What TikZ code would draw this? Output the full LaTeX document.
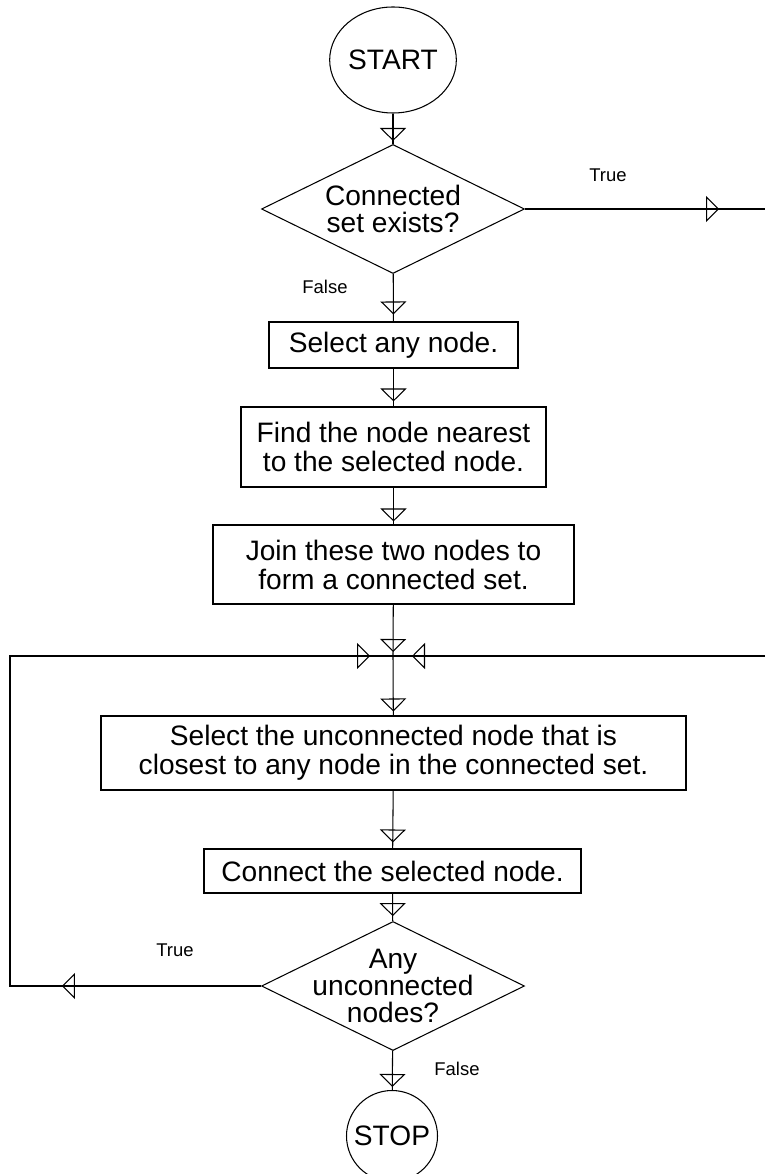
\documentclass[tikz,border=0pt]{standalone}
\usepackage{fontspec}
\setmainfont{Liberation Sans}
\usetikzlibrary{shapes.geometric}
\usetikzlibrary{decorations.markings}
\usetikzlibrary{arrows.meta}

\begin{document}
\begin{tikzpicture}[line width=0.6pt,
  flowbox/.style={draw, rectangle, inner sep=0pt, align=center, font=\fontsize{16}{16.5}\selectfont},
  askbox/.style={draw, diamond, inner sep=0pt, minimum width=5.26cm, minimum height=2.58cm,
    label={[align=center, font=\fontsize{16}{15.6}\selectfont]center:#1}},
  endbox/.style={draw, inner sep=0pt, font=\fontsize{16}{16.5}\selectfont},
  branch/.style={font=\fontsize{10.5}{12}\selectfont},
  tri/.style={postaction={decorate, decoration={markings, mark=at position #1 with {\arrow{Triangle[open, width=0.52cm, length=0.26cm]}}}}}]

\useasboundingbox (0,0) rectangle (15.3,-23.48);

% start and first test
\node[endbox, ellipse, minimum width=2.28cm, minimum height=2.12cm] (start) at (7.86,-1.2) {START};
\node[askbox={Connected\\set exists?}] (d1) at (7.86,-4.18) {};
\node[branch] (t1) at (12.16,-3.5) {True};
\node[branch] (f1) at (6.5,-5.74) {False};
\coordinate (outT) at (15.3,-4.18);

% first pair
\node[flowbox, minimum width=4.98cm, minimum height=0.92cm] (sel) at (7.87,-6.9) {Select any node.};
\node[flowbox, minimum width=6.1cm, minimum height=1.6cm] (near) at (7.87,-8.94) {Find the node nearest\\to the selected node.};
\node[flowbox, minimum width=7.22cm, minimum height=1.58cm] (join) at (7.87,-11.29) {Join these two nodes to\\form a connected set.};

% loop
\coordinate (jn) at (7.86,-13.12);
\coordinate (inR) at (15.3,-13.12);
\node[flowbox, minimum width=11.7cm, minimum height=1.48cm] (close) at (7.87,-15.06) {Select the unconnected node that is\\closest to any node in the connected set.};
\node[flowbox, minimum width=7.54cm, minimum height=0.88cm] (conn) at (7.85,-17.42) {Connect the selected node.};
\node[askbox={Any\\unconnected\\nodes?}] (d2) at (7.86,-19.72) {};
\node[branch] (t2) at (3.5,-19.0) {True};
\node[branch] (f2) at (9.14,-21.38) {False};
\coordinate (loopB) at (0.2,-19.72);

% stop
\node[endbox, circle, minimum size=1.82cm] (stop) at (7.84,-22.72) {STOP};

% connectors
\draw[tri=-0.06cm] (start) -- (d1);
\draw[tri=-0.14cm] (d1) -- (sel);
\draw[tri=-0.1cm] (sel) -- (near);
\draw[tri=-0.06cm] (near) -- (join);
\draw[tri=-0.08cm] (join) -- (jn);
\draw[tri=-0.08cm] (jn) -- (close);
\draw[tri=-0.12cm] (close) -- (conn);
\draw[tri=-0.1cm] (conn) -- (d2);
\draw[tri=-0.06cm] (d2) -- (stop);
\draw[tri=-0.92cm] (d1.east) -- (outT);
\draw[tri=-0.38cm] (inR) -- (jn);
\draw[tri=3.98cm, tri=-0.46cm] (d2.west) -- (loopB) |- (jn);
\end{tikzpicture}
\end{document}
